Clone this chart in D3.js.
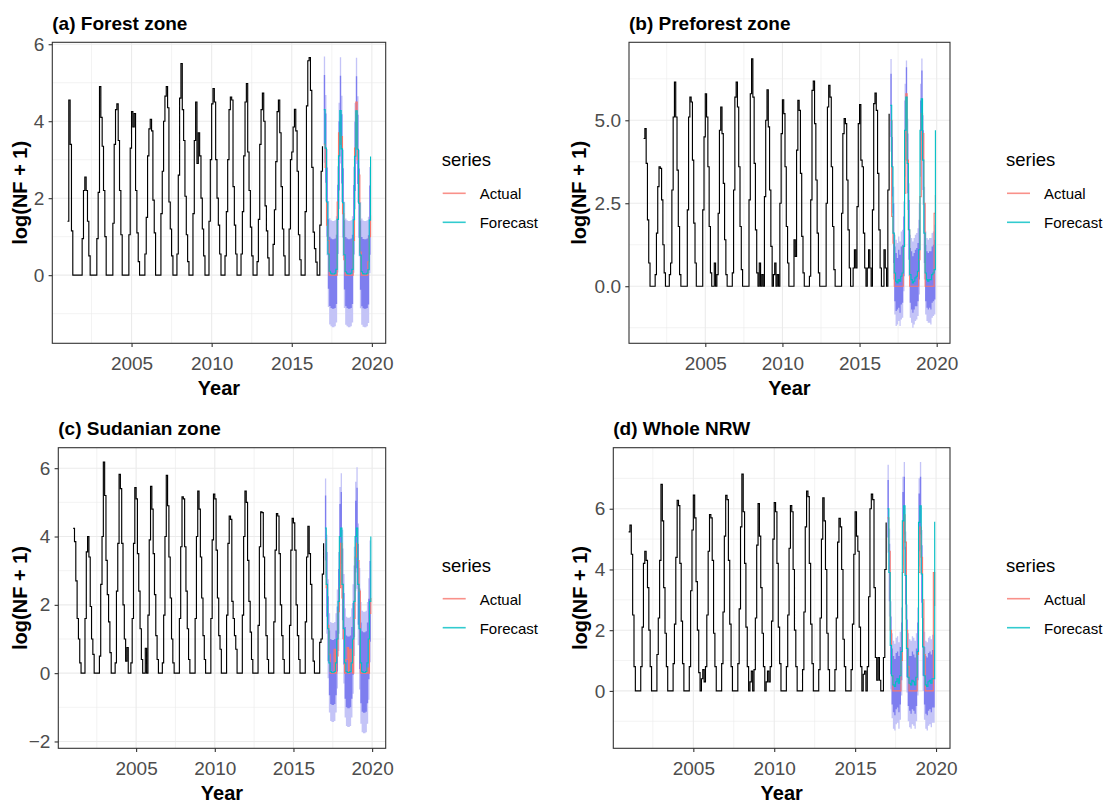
<!DOCTYPE html>
<html><head><meta charset="utf-8">
<script src="https://cdn.jsdelivr.net/npm/d3@7"></script>
<style>
body{margin:0;background:#fff;}
text{font-family:"Liberation Sans",Arial,sans-serif;}
</style></head><body>
<svg id="chart" width="1109" height="803"></svg>
<script>
// ---------- DATA (monthly, Jan 2001 – Dec 2016 history; Jan 2017 – Dec 2019 test/forecast) ----------
const panelTitles = ["(a) Forest zone", "(b) Preforest zone", "(c) Sudanian zone", "(d) Whole NRW"];
const seriesNames = ["Actual", "Forecast"];
const xTickValues = [2005, 2010, 2015, 2020];

const forestHist = [
1.40,4.55,3.40,1.15,0,0,0,0,0,0,0,0.95,
2.20,2.55,2.20,1.40,0.50,0,0,0,0,0,0.95,2.15,
4.90,4.10,3.35,2.20,1.00,0,0,0,0,0,1.35,3.40,
4.30,4.45,3.50,2.20,1.05,0,0,0,0,0,1.05,3.30,
4.25,3.85,4.20,2.20,1.10,0.35,0,0,0,0,0.55,1.50,
3.10,3.80,4.05,3.75,1.95,1.10,0,0,0,0,1.60,2.70,
4.00,4.65,4.90,4.35,1.90,1.20,0.50,0,0,0,0.55,2.60,
4.60,5.50,4.30,3.50,2.05,1.05,0.35,0,0,0,1.60,3.50,
4.50,2.90,3.70,3.10,2.00,1.20,0.50,0,0,0,1.40,3.00,
4.45,4.85,4.50,3.00,2.00,1.30,0.55,0,0,0,0.50,1.65,
3.00,4.30,4.63,4.55,2.30,1.30,0.55,0,0,0,0.55,1.65,
3.10,4.50,4.98,3.20,2.20,1.25,0.50,0,0,0,0.35,1.45,
3.40,4.30,4.73,4.00,1.80,1.15,0.45,0,0,0,0.80,1.70,
2.95,4.25,4.55,3.70,2.30,1.20,0.50,0,0,0,1.20,3.00,
3.20,3.85,4.31,3.75,2.70,1.05,0.40,0,0,0,1.65,4.40,
5.57,5.65,4.80,2.80,1.12,0.69,0.34,0,0,1.30,2.70,3.35];
const forestActual = [
3.40,2.80,1.30,0.90,0,0,0,0,0,0,1.90,3.70,
3.40,3.60,1.60,0.40,0,0,0,0,0,0,0.90,3.30,
4.50,3.00,2.60,0.60,0,0,0,0,0,0.35,1.00,1.55];
const forestMean = [
4.30,3.30,1.90,0.55,0.10,0.05,0.03,0.03,0.05,0.15,1.45,3.10,
4.28,3.28,1.88,0.53,0.09,0.05,0.03,0.03,0.05,0.15,1.44,3.09,
4.27,3.27,1.87,0.52,0.09,0.04,0.03,0.03,0.05,0.14,1.43,3.08];
const forestHi80 = [
5.20,4.20,2.80,1.45,1.00,0.95,0.93,0.93,0.95,1.05,2.35,4.00,
5.18,4.18,2.78,1.43,0.99,0.95,0.93,0.93,0.95,1.05,2.34,3.99,
5.17,4.17,2.77,1.42,0.99,0.94,0.93,0.93,0.95,1.04,2.33,3.98];
const forestLo80 = [
3.40,2.40,1.00,-0.35,-0.80,-0.85,-0.87,-0.87,-0.85,-0.75,0.55,2.20,
3.38,2.38,0.98,-0.37,-0.81,-0.85,-0.87,-0.87,-0.85,-0.75,0.54,2.19,
3.37,2.37,0.97,-0.38,-0.81,-0.86,-0.87,-0.87,-0.85,-0.76,0.53,2.18];
const forestHi95 = [
5.68,4.68,3.28,1.93,1.48,1.43,1.41,1.41,1.43,1.53,2.83,4.48,
5.66,4.66,3.26,1.91,1.47,1.43,1.41,1.41,1.43,1.53,2.82,4.47,
5.65,4.65,3.25,1.90,1.47,1.42,1.41,1.41,1.43,1.52,2.81,4.46];
const forestLo95 = [
2.92,1.92,0.52,-0.83,-1.28,-1.33,-1.35,-1.35,-1.33,-1.23,0.07,1.72,
2.90,1.90,0.50,-0.85,-1.29,-1.33,-1.35,-1.35,-1.33,-1.23,0.06,1.71,
2.89,1.89,0.49,-0.86,-1.29,-1.34,-1.35,-1.35,-1.33,-1.24,0.05,1.70];

const preforestHist = [
4.45,4.75,3.70,2.00,0.70,0,0,0,0,0.35,1.60,3.00,
3.60,3.55,2.60,1.25,0.40,0,0,0,0.35,0.70,2.90,5.10,
6.15,5.10,3.50,1.80,0.35,0,0,0,0,0,2.30,5.10,
5.70,5.55,3.80,1.90,0.70,0,0,0,0,0,2.30,4.50,
5.80,5.10,3.60,1.80,0.40,0,0,0.70,0,0.35,2.20,4.70,
5.40,4.60,3.10,1.40,0.35,0,0,0,0,0.40,2.90,5.70,
6.15,5.40,3.60,1.80,0.50,0,0,0,0,0,2.60,5.80,
6.85,5.70,3.70,1.70,0.40,0,0.70,0,0.35,0,2.70,5.00,
5.92,4.80,2.90,1.20,0,0.35,0.70,0,0.35,0,2.50,4.60,
5.62,5.20,3.60,1.80,0.70,0,0,0,0,1.40,0.90,4.10,
5.60,5.30,3.40,1.50,0.40,0,0,0,0,0.30,2.60,5.90,
6.18,4.90,3.20,1.60,0.40,0,0,0,0,0,2.50,5.40,
6.05,5.70,3.60,1.80,0.50,0,0,0,0,0,2.20,4.60,
5.05,4.90,3.20,1.70,0.55,0,0,0.55,1.10,0.55,2.40,4.90,
5.47,3.80,3.60,1.60,0.55,0,0.55,1.10,0.55,0,2.30,5.50,
5.82,5.30,3.40,1.70,0.55,0,0,1.10,0.55,0,2.90,5.20];
const preforestActual = [
5.00,2.10,1.30,0,0,0,0,0,0,0,1.20,2.80,
5.80,3.80,1.70,0,0,0,0,0,0,0,0.80,2.70,
5.20,4.60,2.50,0,0,0,0,0,0,0,2.20,2.75];
const preforestMean = [
5.45,3.60,1.60,0.40,0.15,0.10,0.20,0.15,0.30,0.40,1.20,4.70,
5.70,3.70,1.70,0.35,0.20,0.10,0.15,0.25,0.30,0.45,1.10,4.70,
5.65,3.80,1.60,0.40,0.20,0.15,0.20,0.20,0.35,0.40,0.50,4.70];
const preforestHi80 = [
6.40,4.50,2.50,1.20,1.00,0.85,1.10,0.95,1.20,1.25,2.10,5.60,
6.60,4.60,2.60,1.15,1.05,0.90,1.00,1.10,1.15,1.30,2.00,5.60,
6.50,4.70,2.50,1.25,1.05,1.00,1.05,1.05,1.20,1.25,1.40,5.60];
const preforestLo80 = [
4.50,2.70,0.70,-0.45,-0.75,-0.70,-0.65,-0.80,-0.55,-0.50,0.30,3.80,
4.80,2.80,0.80,-0.50,-0.70,-0.80,-0.70,-0.60,-0.60,-0.45,0.20,3.80,
4.75,2.90,0.70,-0.45,-0.65,-0.70,-0.65,-0.70,-0.50,-0.45,-0.40,3.80];
const preforestHi95 = [
6.85,5.00,3.00,1.55,1.40,1.30,1.50,1.35,1.65,1.70,2.55,6.10,
6.80,5.05,3.10,1.55,1.45,1.35,1.45,1.55,1.60,1.75,2.50,6.10,
6.86,5.15,3.00,1.65,1.45,1.40,1.45,1.45,1.60,1.65,1.85,6.10];
const preforestLo95 = [
4.05,2.20,0.20,-0.85,-1.20,-1.15,-1.05,-1.20,-1.00,-0.95,-0.15,3.30,
4.35,2.30,0.30,-0.95,-1.10,-1.25,-1.15,-1.05,-1.00,-0.90,-0.25,3.30,
4.40,2.45,0.20,-0.85,-1.05,-1.10,-1.10,-1.15,-0.95,-0.90,-0.85,3.30];

const sudanianHist = [
4.24,3.85,2.70,1.60,1.00,0.30,0,0,0,1.60,3.55,4.00,
3.40,1.95,1.00,0.55,0,0,0,0,0.50,2.60,4.00,6.18,
5.20,3.30,2.30,1.50,0.60,0,0,0,0.30,2.40,3.80,5.82,
5.40,3.80,2.00,1.00,0.35,0.75,0,0,0.30,1.60,3.80,5.43,
5.10,3.50,2.40,1.30,0.40,0,0,0.73,0,1.70,3.90,5.47,
4.80,3.50,2.30,1.10,0.40,0,0,0,0.30,1.70,4.00,5.79,
4.90,3.40,2.20,1.00,0.30,0,0,0,0,1.60,3.70,5.16,
5.10,3.70,2.40,1.30,0.40,0,0,0,0,1.60,4.00,5.33,
4.80,3.40,2.20,1.10,0.40,0,0,0,0,1.60,3.90,5.24,
5.10,3.60,2.20,1.10,0.70,0,0,0,0,1.70,3.80,4.60,
4.50,2.10,1.60,1.10,0.70,0,0,0,0,1.70,4.00,5.33,
5.00,3.30,2.10,1.20,0.40,0,0,0,0,1.40,3.70,4.72,
4.70,3.40,2.20,1.10,0.40,0,0,0,0,1.50,3.60,4.67,
4.60,3.50,2.00,1.10,0.40,0,0,0,0,1.40,3.60,4.53,
4.40,3.60,2.00,1.10,0.40,0,0,0,0,1.50,3.40,4.30,
3.50,2.60,1.00,0.35,0,0,0,0,0.90,1.00,2.90,3.80];
const sudanianActual = [
3.90,2.50,1.40,0.55,0,0,0,0.70,0,0.50,1.80,2.50,
3.80,2.20,1.00,0,0.40,0.75,0,0.70,0.30,0,1.60,3.40,
3.80,3.30,2.40,0,0,0,0,0,0.15,0,1.75,2.20];
const sudanianMean = [
4.25,2.60,1.30,0.30,0.05,0.02,0.02,0.05,0.30,1.00,2.10,4.00,
4.25,2.60,1.30,0.30,0.05,0.02,0.02,0.05,0.30,1.00,2.10,4.00,
4.25,2.60,1.30,0.30,0.05,0.02,0.02,0.05,0.30,1.00,2.10,4.00];
const sudanianHi80 = [
5.20,3.55,2.25,1.25,1.00,0.97,0.97,1.00,1.25,1.95,3.05,4.95,
5.30,3.65,2.35,1.35,1.10,1.07,1.07,1.10,1.35,2.05,3.15,5.05,
5.43,3.78,2.48,1.48,1.23,1.20,1.20,1.23,1.48,2.18,3.28,5.18];
const sudanianLo80 = [
3.30,1.65,0.35,-0.65,-0.90,-0.93,-0.93,-0.90,-0.65,0.05,1.15,3.05,
3.20,1.55,0.25,-0.75,-1.00,-1.03,-1.03,-1.00,-0.75,-0.05,1.05,2.95,
3.07,1.42,0.12,-0.88,-1.13,-1.16,-1.16,-1.13,-0.88,-0.18,0.92,2.82];
const sudanianHi95 = [
5.70,4.05,2.75,1.75,1.50,1.47,1.47,1.50,1.75,2.45,3.55,5.45,
5.85,4.20,2.90,1.90,1.65,1.62,1.62,1.65,1.90,2.60,3.70,5.60,
6.03,4.38,3.08,2.08,1.83,1.80,1.80,1.83,2.08,2.78,3.88,5.78];
const sudanianLo95 = [
2.80,1.15,-0.15,-1.15,-1.40,-1.43,-1.43,-1.40,-1.15,-0.45,0.65,2.55,
2.65,1.00,-0.30,-1.30,-1.55,-1.58,-1.58,-1.55,-1.30,-0.60,0.50,2.40,
2.47,0.82,-0.48,-1.48,-1.73,-1.76,-1.76,-1.73,-1.48,-0.78,0.32,2.22];

const nrwHist = [
5.24,5.46,4.50,2.50,0.80,0,0,0,0,0.80,2.10,4.20,
4.60,4.30,3.40,2.00,0.80,0,0,0,0,1.20,2.40,4.30,
6.80,5.60,3.40,1.90,0.80,0,0,0,0,0.90,2.20,4.40,
6.28,6.10,4.20,2.30,0.90,0,0,0,0,0.80,3.30,5.30,
6.45,5.70,3.60,2.00,0.60,0,0.40,0.70,0.30,0.80,2.50,4.60,
5.81,5.70,4.30,1.90,0.80,0,0,0,0,0.90,2.60,5.10,
6.44,6.30,4.30,2.20,0.80,0,0,0,0,0.90,2.70,5.40,
7.14,5.90,4.20,2.10,0.80,0,0.30,0.65,0,0.70,2.40,4.80,
6.17,5.10,3.40,1.90,0.80,0,0.30,0.65,0.30,0.80,2.30,5.00,
6.20,5.90,4.20,2.10,0.90,0,0,0,0,0.80,2.50,4.70,
6.10,5.90,4.00,2.00,0.80,0,0,0,0,0.70,2.60,5.40,
6.58,6.40,4.20,2.20,0.90,0,0,0,0,0.70,2.40,5.00,
6.36,5.60,4.00,1.90,0.70,0,0,0,0,0.70,2.40,4.90,
5.68,5.40,4.00,1.70,0.80,0,0,0,0,0.70,2.20,4.50,
5.90,5.10,4.60,2.10,0.80,0,0.55,0.65,0,0.80,3.10,6.00,
6.48,6.30,3.40,1.10,0.35,1.10,0.35,0,0,1.10,4.00,5.55];
const nrwActual = [
5.70,4.60,2.00,0.50,0,0,0,0,0,0,1.00,3.90,
5.80,4.90,2.00,0.80,0,0,0,0,0,0,1.20,3.90,
5.40,4.40,3.00,1.20,0,0,0,0,0,0,3.90,2.80];
const nrwMean = [
6.00,3.90,1.50,0.50,0.20,0.15,0.30,0.40,0.25,0.50,1.30,5.60,
6.10,3.80,1.40,0.45,0.25,0.20,0.35,0.30,0.20,0.45,1.30,5.55,
6.10,3.85,1.45,0.50,0.20,0.15,0.30,0.35,0.25,0.40,0.40,5.57];
const nrwHi80 = [
6.95,4.85,2.45,1.40,1.15,1.05,1.25,1.30,1.15,1.45,2.25,6.55,
7.05,4.75,2.35,1.40,1.15,1.15,1.30,1.20,1.10,1.40,2.25,6.50,
7.05,4.80,2.40,1.45,1.15,1.10,1.25,1.30,1.20,1.35,1.35,6.52];
const nrwLo80 = [
5.05,2.95,0.55,-0.45,-0.70,-0.80,-0.60,-0.55,-0.70,-0.45,0.35,4.65,
5.15,2.85,0.45,-0.50,-0.65,-0.75,-0.60,-0.65,-0.75,-0.50,0.35,4.60,
5.15,2.90,0.50,-0.45,-0.75,-0.80,-0.65,-0.60,-0.70,-0.55,-0.55,4.62];
const nrwHi95 = [
7.45,5.35,2.95,1.90,1.65,1.55,1.75,1.80,1.60,1.95,2.75,7.05,
7.54,5.25,2.85,1.90,1.70,1.65,1.80,1.75,1.65,1.90,2.75,7.00,
7.54,5.30,2.90,1.95,1.65,1.60,1.75,1.80,1.70,1.85,1.85,7.02];
const nrwLo95 = [
4.55,2.45,0.05,-0.90,-1.25,-1.30,-1.10,-1.05,-1.25,-0.95,-0.15,4.15,
4.66,2.35,-0.05,-1.00,-1.20,-1.25,-1.10,-1.15,-1.25,-1.00,-0.15,4.10,
4.66,2.40,0.00,-0.95,-1.25,-1.30,-1.15,-1.10,-1.20,-1.05,-1.05,4.12];

// ---------- LAYOUT ----------
const svg = d3.select("#chart");
svg.append("rect").attr("width",1109).attr("height",803).attr("fill","#fff");
const xDomain = [2000.054, 2020.863];
const xMinor = [2002.5, 2007.5, 2012.5, 2017.5];
const histT = d3.range(forestHist.length).map(i => 2001 + i/12);
const fcT = d3.range(forestMean.length).map(i => 2017 + i/12);

const panels = [
  {title: panelTitles[0], hist: forestHist, act: forestActual, mean: forestMean,
   lo80: forestLo80, hi80: forestHi80, lo95: forestLo95, hi95: forestHi95,
   box: {x0: 52.3, x1: 385.7, y0: 42.3, y1: 343.3}, yDom: [-1.77, 6.05],
   yTicks: [0,2,4,6], yMinor: [-1,1,3,5], fmt: d3.format("d"), yTitleOff: 25.5},
  {title: panelTitles[1], hist: preforestHist, act: preforestActual, mean: preforestMean,
   lo80: preforestLo80, hi80: preforestHi80, lo95: preforestLo95, hi95: preforestHi95,
   box: {x0: 629, x1: 950, y0: 42.3, y1: 343.3}, yDom: [-1.72, 7.35],
   yTicks: [0,2.5,5], yMinor: [-1.25,1.25,3.75,6.25], fmt: d3.format(".1f"), yTitleOff: 43.5},
  {title: panelTitles[2], hist: sudanianHist, act: sudanianActual, mean: sudanianMean,
   lo80: sudanianLo80, hi80: sudanianHi80, lo95: sudanianLo95, hi95: sudanianHi95,
   box: {x0: 58.3, x1: 385.7, y0: 447.7, y1: 748.3}, yDom: [-2.2, 6.6],
   yTicks: [-2,0,2,4,6], yMinor: [-1,1,3,5], fmt: d3.format("d"), yTitleOff: 31.5},
  {title: panelTitles[3], hist: nrwHist, act: nrwActual, mean: nrwMean,
   lo80: nrwLo80, hi80: nrwHi80, lo95: nrwLo95, hi95: nrwHi95,
   box: {x0: 613.3, x1: 950, y0: 447.7, y1: 748.3}, yDom: [-1.89, 8.01],
   yTicks: [0,2,4,6], yMinor: [-1,1,3,5,7], fmt: d3.format("d"), yTitleOff: 26.5}
];

const colActual = "#F8766D", colForecast = "#00BFC4";
const col95 = "#C4C4F7", col80 = "#7E7EEF";
const gridCol = "#EBEBEB", axisCol = "#333333", tickTextCol = "#4D4D4D";
const stepCurve = d3.curveStepAfter;

panels.forEach((p, k) => {
  const {x0, x1, y0, y1} = p.box;
  const x = d3.scaleLinear().domain(xDomain).range([x0, x1]);
  const y = d3.scaleLinear().domain(p.yDom).range([y1, y0]);
  const g = svg.append("g");
  const clipId = "clip" + k;
  g.append("clipPath").attr("id", clipId).append("rect")
    .attr("x", x0).attr("y", y0).attr("width", x1 - x0).attr("height", y1 - y0);

  // grid minor
  g.selectAll(null).data(xMinor).join("line")
    .attr("x1", d => x(d)).attr("x2", d => x(d)).attr("y1", y0).attr("y2", y1)
    .attr("stroke", gridCol).attr("stroke-width", 0.6);
  g.selectAll(null).data(p.yMinor).join("line")
    .attr("x1", x0).attr("x2", x1).attr("y1", d => y(d)).attr("y2", d => y(d))
    .attr("stroke", gridCol).attr("stroke-width", 0.6);
  // grid major
  g.selectAll(null).data(xTickValues).join("line")
    .attr("x1", d => x(d)).attr("x2", d => x(d)).attr("y1", y0).attr("y2", y1)
    .attr("stroke", gridCol).attr("stroke-width", 1.1);
  g.selectAll(null).data(p.yTicks).join("line")
    .attr("x1", x0).attr("x2", x1).attr("y1", d => y(d)).attr("y2", d => y(d))
    .attr("stroke", gridCol).attr("stroke-width", 1.1);

  const plot = g.append("g").attr("clip-path", `url(#${clipId})`);
  // intervals
  const area = (lo, hi) => d3.area().curve(stepCurve)
    .x((d, i) => x(fcT[i])).y0((d, i) => y(lo[i])).y1((d, i) => y(hi[i]));
  plot.append("path").datum(p.mean).attr("d", area(p.lo95, p.hi95)).attr("fill", col95);
  plot.append("path").datum(p.mean).attr("d", area(p.lo80, p.hi80)).attr("fill", col80);
  // history
  plot.append("path").datum(p.hist)
    .attr("d", d3.line().curve(stepCurve).x((d, i) => x(histT[i])).y(d => y(d)))
    .attr("fill", "none").attr("stroke", "#000").attr("stroke-width", 1.15);
  // actual + forecast
  const ln = d3.line().curve(stepCurve).x((d, i) => x(fcT[i])).y(d => y(d));
  plot.append("path").datum(p.act).attr("d", ln)
    .attr("fill", "none").attr("stroke", colActual).attr("stroke-width", 1.1);
  plot.append("path").datum(p.mean).attr("d", ln)
    .attr("fill", "none").attr("stroke", colForecast).attr("stroke-width", 1.1);

  // border
  g.append("rect").attr("x", x0).attr("y", y0).attr("width", x1 - x0).attr("height", y1 - y0)
    .attr("fill", "none").attr("stroke", axisCol).attr("stroke-width", 1.1);

  // axes
  const ax = g.append("g").attr("transform", `translate(0,${y1})`)
    .call(d3.axisBottom(x).tickValues(xTickValues).tickFormat(d3.format("d")).tickSize(3.7).tickPadding(9.5));
  const ay = g.append("g").attr("transform", `translate(${x0},0)`)
    .call(d3.axisLeft(y).tickValues(p.yTicks).tickFormat(p.fmt).tickSize(3.7).tickPadding(4.3));
  [ax, ay].forEach(a => {
    a.select(".domain").remove();
    a.selectAll(".tick line").attr("stroke", axisCol).attr("stroke-width", 1.1);
    a.selectAll(".tick text").attr("fill", tickTextCol).style("font-size", "19px")
      .style("font-family", '"Liberation Sans", Arial, sans-serif');
  });

  // titles
  g.append("text").attr("x", x0).attr("y", y0 - 12.5).text(p.title)
    .style("font-size", "19px").style("font-weight", "bold").attr("fill", "#000");
  g.append("text").attr("x", (x0 + x1) / 2).attr("y", y1 + 51.5).attr("text-anchor", "middle")
    .text("Year").style("font-size", "20px").style("font-weight", "bold");
  g.append("text").attr("transform", `translate(${x0 - p.yTitleOff},${(y0 + y1) / 2}) rotate(-90)`)
    .attr("text-anchor", "middle").text("log(NF + 1)")
    .style("font-size", "20px").style("font-weight", "bold");

  // legend
  const L = x1 + 56;
  const lg = g.append("g");
  lg.append("text").attr("x", L).attr("y", y0 + 124).text("series").style("font-size", "18.5px").attr("fill", "#000");
  seriesNames.forEach((s, j) => {
    const ky = y0 + 151 + j * 29;
    lg.append("line").attr("x1", L + 1).attr("x2", L + 24).attr("y1", ky).attr("y2", ky)
      .attr("stroke", j === 0 ? colActual : colForecast).attr("stroke-width", 1.6).attr("opacity", 0.8);
    lg.append("text").attr("x", L + 38).attr("y", ky + 6).text(s).style("font-size", "15px").attr("fill", "#000");
  });
});
</script></body></html>
